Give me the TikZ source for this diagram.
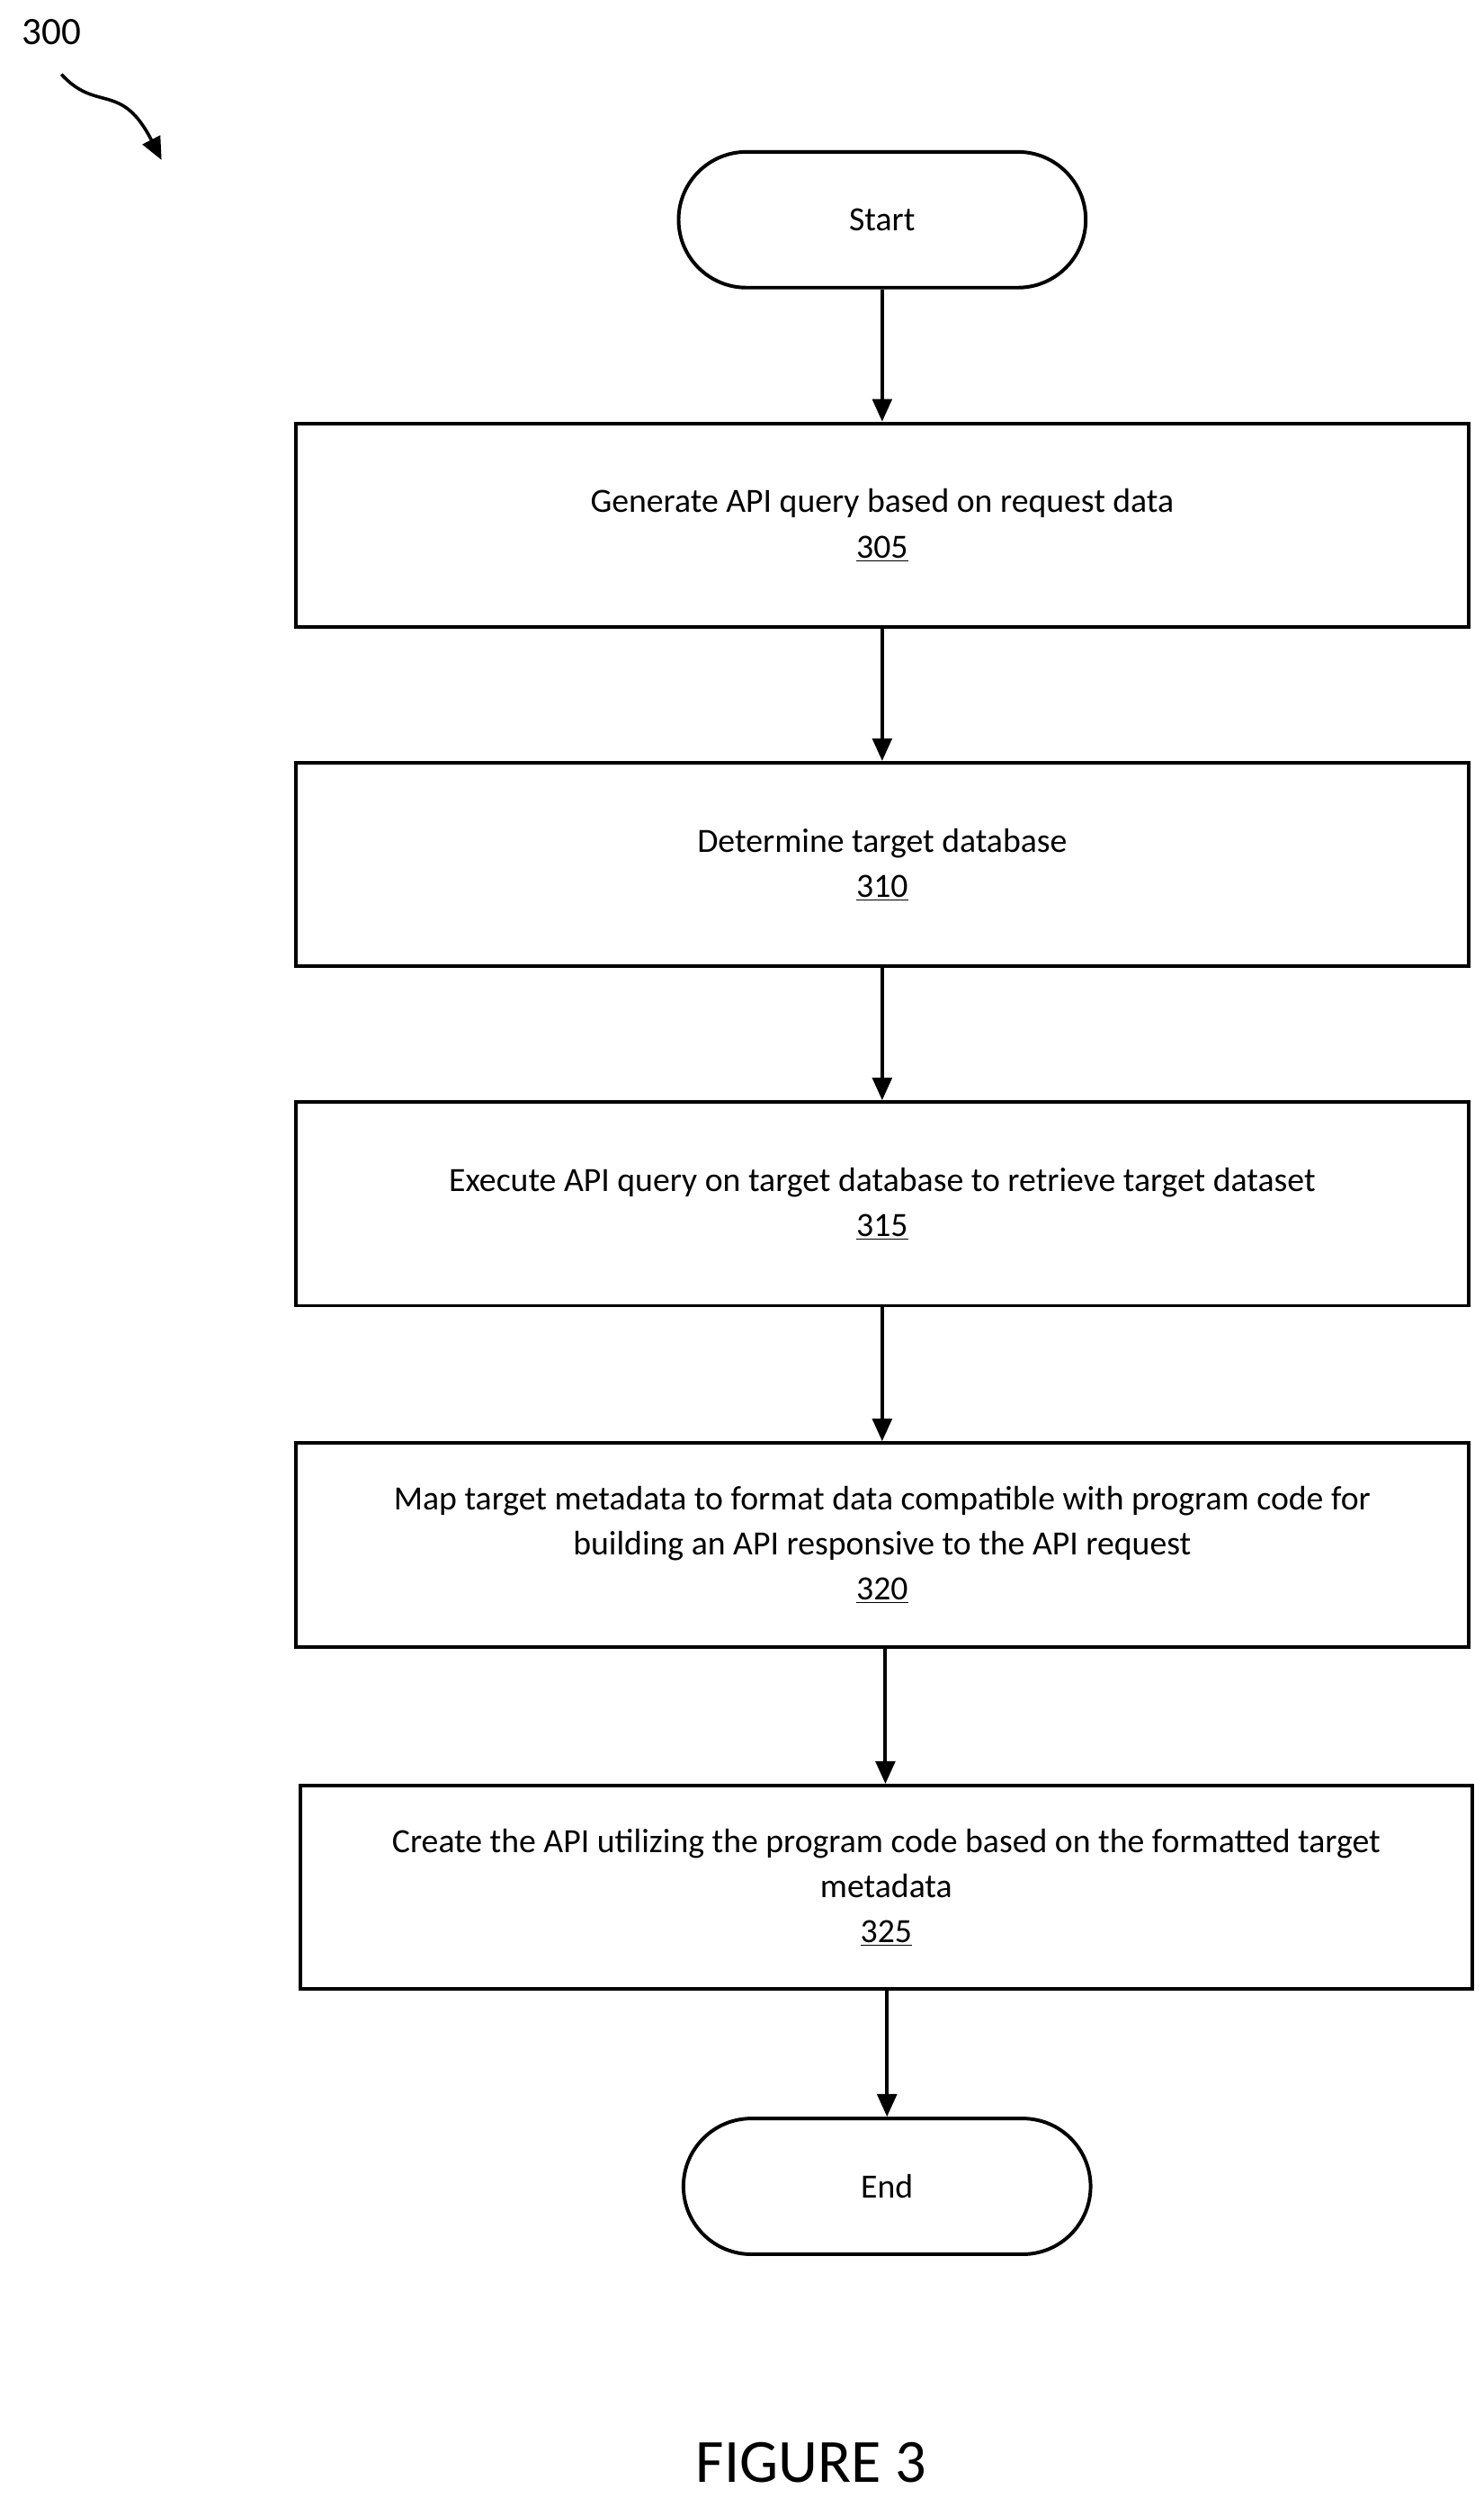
\documentclass[tikz,border=0pt]{standalone}
\usepackage{fontspec}
\setmainfont{Carlito}
\usetikzlibrary{arrows.meta}
\begin{document}
\begin{tikzpicture}[x=1pt,y=-1pt,
  box/.style={draw,line width=2.2pt,minimum width=726pt,minimum height=126pt,align=center,font=\fontsize{21}{28}\selectfont,inner sep=0pt},
  term/.style={draw,line width=2.2pt,rounded corners=42pt,minimum width=252pt,minimum height=84pt,font=\fontsize{21}{28}\selectfont},
  arr/.style={-{Triangle[length=14pt,width=12pt]},line width=2.2pt}]
\useasboundingbox (0,0) rectangle (918,1557);
\node[term] (start) at (546,136) {Start};
\node[box] (b305) at (546,325) {Generate API query based on request data\\\underline{305}};
\node[box] (b310) at (546,535) {Determine target database\\\underline{310}};
\node[box] (b315) at (546,745) {Execute API query on target database to retrieve target dataset\\\underline{315}};
\node[box] (b320) at (546,956) {Map target metadata to format data compatible with program code for\\building an API responsive to the API request\\\underline{320}};
\node[box,minimum width=725pt] (b325) at (548.5,1168) {Create the API utilizing the program code based on the formatted target\\metadata\\\underline{325}};
\node[term] (end) at (549,1353) {End};
\draw[arr] (start) -- (b305);
\draw[arr] (b305) -- (b310);
\draw[arr] (b310) -- (b315);
\draw[arr] (b315) -- (b320);
\draw[arr] (b320.south -| 548,0) -- (b325.north -| 548,0);
\draw[arr] (b325.south -| 549,0) -- (end);
\node[font=\fontsize{24}{28}\selectfont] (lbl) at (32,20) {300};
\coordinate (ae) at (100,99);
\draw[arr,line width=2pt] (38,46) .. controls (60,70) and (75,50) .. (ae);
\node[font=\fontsize{38}{46}\selectfont,anchor=base] (fig) at (502,1536) {FIGURE 3};
\end{tikzpicture}
\end{document}
